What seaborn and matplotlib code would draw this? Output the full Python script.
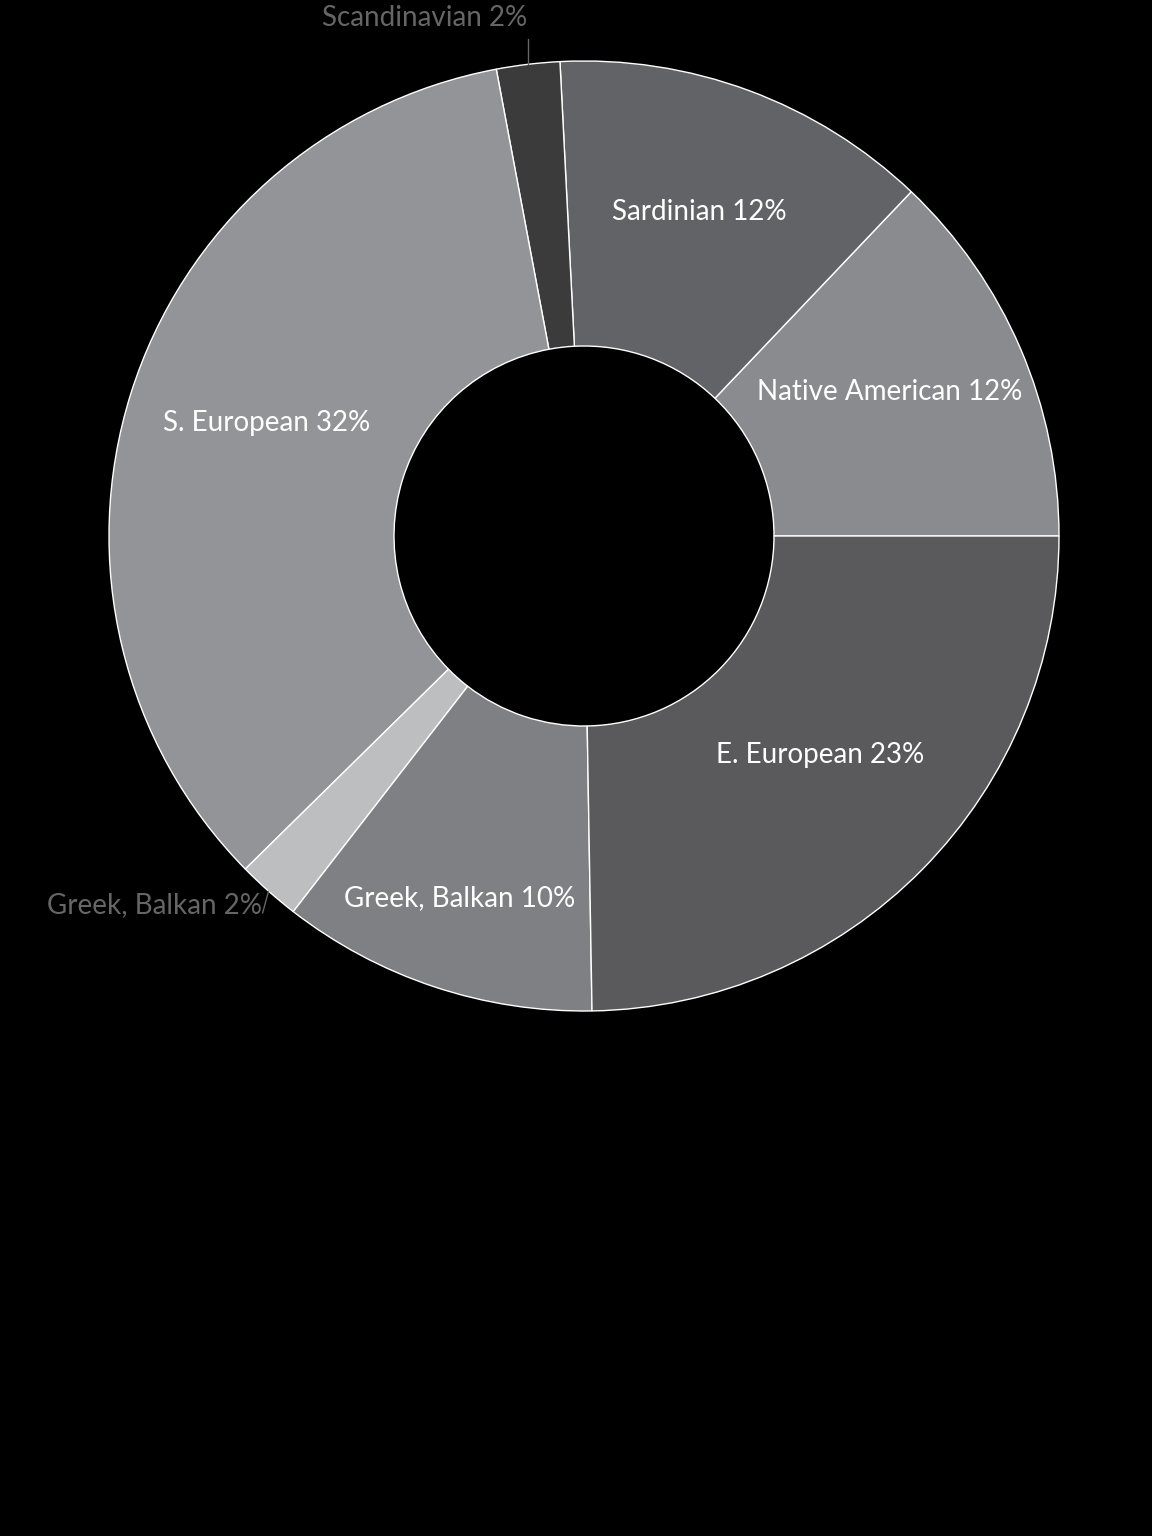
import numpy as np
import seaborn as sns
import matplotlib.pyplot as plt

# ancestry breakdown (percent), counter-clockwise from 3 o'clock
names = ["Native American", "Sardinian", "Scandinavian", "S. European",
         "Greek, Balkan", "Greek, Balkan", "E. European"]
values = [12, 12, 2, 32, 2, 10, 23]
colors = ["#8a8b8f", "#626367", "#3b3b3c", "#939498",
          "#bdbec0", "#7f8084", "#5a5a5c"]
outside = [False, False, True, False, True, False, False]
label_r = [0.71, 0.73, 0, 0.71, 0, 0.80, 0.68]
label_dx = [-4, -5, 0, 4, 0, -5, 6]
label_dy = [11, -1, 0, 12, 0, -1, 7]

sns.set_theme(style="white")
plt.rcParams["font.family"] = ["Lato", "DejaVu Sans"]

fig = plt.figure(figsize=(11.52, 15.36), dpi=100, facecolor="black")
ax = fig.add_axes([0, 0, 1, 1])
ax.set_facecolor("black")

cx, cy, R = 584, 1000, 475
wedges, _ = ax.pie(
    values,
    colors=colors,
    startangle=0,
    counterclock=True,
    radius=R,
    center=(cx, cy),
    wedgeprops=dict(width=285, edgecolor="white", linewidth=1),
)

for i, w in enumerate(wedges):
    mid = np.deg2rad((w.theta1 + w.theta2) / 2)
    text = f"{names[i]} {values[i]}%"
    if not outside[i]:
        lr = label_r[i] * R
        ax.text(cx + lr * np.cos(mid) + label_dx[i],
                cy + lr * np.sin(mid) + label_dy[i], text,
                color="white", fontsize=20, ha="center", va="center")
    else:
        x0, y0 = cx + R * np.cos(mid), cy + R * np.sin(mid)
        if np.sin(mid) > 0.5:
            ax.plot([x0, x0], [y0, y0 + 25], color="#666666", lw=1)
            ax.text(x0 - 103, y0 + 46, text, color="#666666",
                    fontsize=20, ha="center", va="center")
        else:
            ax.plot([x0, x0 - 6], [y0, y0 - 22], color="#666666", lw=1)
            ax.text(x0 - 7, y0 - 14, text, color="#666666",
                    fontsize=20, ha="right", va="center")

ax.set_xlim(0, 1152)
ax.set_ylim(0, 1536)
ax.axis("off")

fig.savefig("out.png", dpi=100, facecolor="black")
